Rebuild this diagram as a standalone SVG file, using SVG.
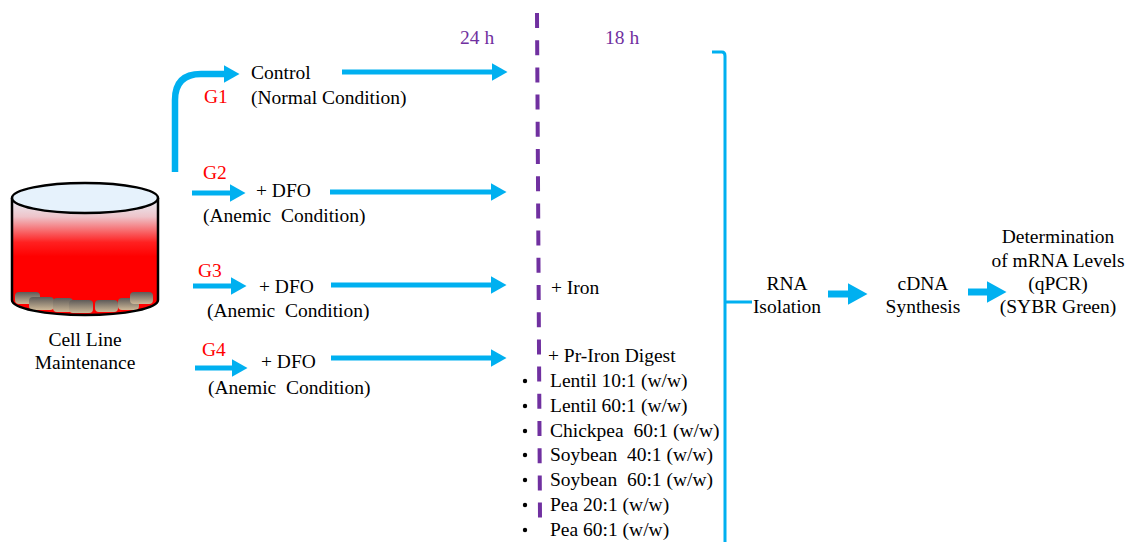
<svg xmlns="http://www.w3.org/2000/svg" width="1137" height="542" viewBox="0 0 1137 542" font-family="'Liberation Serif', 'Times New Roman', Times, 'DejaVu Serif', serif">
  <style>
    text { font-family: 'Liberation Serif', 'Times New Roman', Times, 'DejaVu Serif', serif; font-size: 19.5px; fill: #000; }
    .pre { white-space: pre; }
    .grp { fill: #FF0000; }
    .time { fill: #7030A0; }
    .mid { text-anchor: middle; }
    .arrow { stroke: #00B0F0; stroke-width: 5; fill: none; marker-end: url(#head); }
    .arrow-big { stroke: #00B0F0; stroke-width: 7; fill: none; marker-end: url(#headBig); }
    .bracket { stroke: #00B0F0; stroke-width: 3; fill: none; }
    .cell { stroke: none; fill: url(#cellGrad); }
  </style>
  <defs>
    <marker id="head" markerUnits="userSpaceOnUse" markerWidth="17" markerHeight="18" refX="0.5" refY="9" orient="auto">
      <path d="M0,0 L16,9 L0,18 Z" fill="#00B0F0"/>
    </marker>
    <marker id="headBig" markerUnits="userSpaceOnUse" markerWidth="21" markerHeight="22" refX="0.5" refY="11" orient="auto">
      <path d="M0,0 L20,11 L0,22 Z" fill="#00B0F0"/>
    </marker>
    <linearGradient id="mediumGrad" x1="0" y1="198" x2="0" y2="315" gradientUnits="userSpaceOnUse">
      <stop offset="0" stop-color="#E8F2FA"/>
      <stop offset="0.16" stop-color="#EEC4CA"/>
      <stop offset="0.38" stop-color="#FF2020"/>
      <stop offset="0.5" stop-color="#FF0000"/>
      <stop offset="1" stop-color="#FF0000"/>
    </linearGradient>
    <linearGradient id="cellGrad" x1="0" y1="0" x2="0" y2="1">
      <stop offset="0" stop-color="#5E5A58"/>
      <stop offset="1" stop-color="#CDB898"/>
    </linearGradient>
  </defs>

  <!-- culture vessel -->
  <g id="cell-line">
    <path d="M12,198 V300 A73,15 0 0 0 158,300 V198 Z" fill="url(#mediumGrad)"/>
    <rect class="cell" x="15" y="292" width="25" height="12" rx="4"/>
    <rect class="cell" x="29" y="297" width="25" height="13" rx="4"/>
    <rect class="cell" x="53" y="298" width="20" height="14" rx="4"/>
    <rect class="cell" x="69" y="300" width="24" height="13" rx="4"/>
    <rect class="cell" x="95" y="300" width="23" height="12" rx="4"/>
    <rect class="cell" x="118" y="298" width="21" height="12" rx="4"/>
    <rect class="cell" x="130" y="292" width="23" height="12" rx="4"/>
    <path d="M12,198 V300 A73,15 0 0 0 158,300 V198" fill="none" stroke="#000" stroke-width="2.5"/>
    <ellipse cx="85" cy="198" rx="73" ry="15" fill="#E6F2FC" stroke="#000" stroke-width="2.5"/>
    <text class="mid" x="85" y="346">Cell Line</text>
    <text class="mid" x="85" y="369">Maintenance</text>
  </g>

  <!-- timeline labels -->
  <g id="timeline">
    <line x1="537" y1="13" x2="540" y2="518" stroke="#7030A0" stroke-width="4" stroke-dasharray="15 12.2"/>
    <text class="time" x="460" y="44">24 h</text>
    <text class="time" x="605" y="44">18 h</text>
  </g>

  <!-- treatment groups -->
  <g id="g1">
    <text class="grp" x="204" y="103">G1</text>
    <text x="251" y="79">Control</text>
    <text x="251" y="104">(Normal Condition)</text>
  </g>
  <g id="g2">
    <text class="grp" x="203" y="179">G2</text>
    <text x="256" y="197">+ DFO</text>
    <text class="pre" x="203" y="222" xml:space="preserve">(Anemic  Condition)</text>
  </g>
  <g id="g3">
    <text class="grp" x="198" y="277">G3</text>
    <text x="259" y="293">+ DFO</text>
    <text class="pre" x="207" y="317" xml:space="preserve">(Anemic  Condition)</text>
    <text x="551" y="294">+ Iron</text>
  </g>
  <g id="g4">
    <text class="grp" x="202" y="356">G4</text>
    <text x="261" y="368">+ DFO</text>
    <text class="pre" x="208" y="394" xml:space="preserve">(Anemic  Condition)</text>
    <text x="548" y="362">+ Pr-Iron Digest</text>
  </g>

  <!-- digest list -->
  <g id="digests">
    <g fill="#000">
      <circle cx="525" cy="381" r="2.2"/>
      <circle cx="525" cy="406" r="2.2"/>
      <circle cx="525" cy="431" r="2.2"/>
      <circle cx="525" cy="455" r="2.2"/>
      <circle cx="525" cy="480" r="2.2"/>
      <circle cx="525" cy="505" r="2.2"/>
      <circle cx="525" cy="530" r="2.2"/>
    </g>
    <text x="550" y="387">Lentil 10:1 (w/w)</text>
    <text x="550" y="412">Lentil 60:1 (w/w)</text>
    <text class="pre" x="550" y="437" xml:space="preserve">Chickpea  60:1 (w/w)</text>
    <text class="pre" x="550" y="461" xml:space="preserve">Soybean  40:1 (w/w)</text>
    <text class="pre" x="550" y="486" xml:space="preserve">Soybean  60:1 (w/w)</text>
    <text x="550" y="511">Pea 20:1 (w/w)</text>
    <text x="550" y="536">Pea 60:1 (w/w)</text>
  </g>

  <!-- downstream analysis -->
  <g id="rna-isolation">
    <text class="mid" x="787" y="290">RNA</text>
    <text class="mid" x="787" y="313">Isolation</text>
  </g>
  <g id="cdna-synthesis">
    <text class="mid" x="923" y="290">cDNA</text>
    <text class="mid" x="923" y="313">Synthesis</text>
  </g>
  <g id="qpcr">
    <text class="mid" x="1058" y="243">Determination</text>
    <text class="mid" x="1058" y="267">of mRNA Levels</text>
    <text class="mid" x="1058" y="290">(qPCR)</text>
    <text class="mid" x="1058" y="313">(SYBR Green)</text>
  </g>

  <!-- connectors -->
  <g id="connectors">
    <path class="arrow" style="stroke-width:6.5" d="M175,172 V100 Q175,74 201,74 H224"/>
    <line class="arrow" x1="342" y1="72" x2="492" y2="72"/>
    <line class="arrow" x1="192" y1="193" x2="230" y2="193"/>
    <line class="arrow" x1="330" y1="192" x2="491" y2="192"/>
    <line class="arrow" x1="193" y1="286" x2="231" y2="286"/>
    <line class="arrow" x1="331" y1="285" x2="491" y2="285"/>
    <line class="arrow" x1="195" y1="368" x2="232" y2="368"/>
    <line class="arrow" x1="331" y1="358" x2="491" y2="358"/>
    <path class="bracket" d="M712,52 H722 Q725,52 725,56 V542 M725,302 H752"/>
    <line class="arrow-big" x1="828" y1="294" x2="848" y2="294"/>
    <line class="arrow-big" x1="968" y1="292" x2="987" y2="292"/>
  </g>
</svg>
